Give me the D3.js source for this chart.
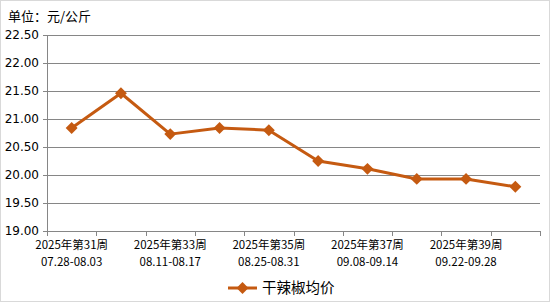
<!DOCTYPE html>
<meta charset='utf-8'>
<style>
    body { margin: 0; background: #fff; }
    text { font-family: 'Noto Sans CJK SC', 'DejaVu Sans', sans-serif; fill: #000; }
</style>
<body>
<div id='container'></div>
<script src='https://d3js.org/d3.v7.min.js'></script>
<script>
    // Data
    const weeks = [ '2025年第31周', '2025年第32周', '2025年第33周', '2025年第34周', '2025年第35周',
        '2025年第36周', '2025年第37周', '2025年第38周', '2025年第39周', '2025年第40周' ];
    const ranges = [ '07.28-08.03', '08.04-08.10', '08.11-08.17', '08.18-08.24', '08.25-08.31',
        '09.01-09.07', '09.08-09.14', '09.15-09.21', '09.22-09.28', '09.29-10.05' ];
    const prices = [ 20.84, 21.46, 20.73, 20.84, 20.80, 20.25, 20.11, 19.93, 19.93, 19.79 ];
    const yTicks = [ 19, 19.5, 20, 20.5, 21, 21.5, 22, 22.5 ];
    const seriesName = '干辣椒均价';
    const unitLabel = '单位：元/公斤';

    const W = 550, H = 302;
    const margin = { top: 35, left: 47, right: 10, bottom: 71 };
    const width = W - margin.left - margin.right,
        height = H - margin.top - margin.bottom;
    const color = '#c55a11';

    const svg = d3.select( '#container' ).append( 'svg' )
        .attr( 'width', W ).attr( 'height', H );

    svg.append( 'rect' )
        .attr( 'x', 0.5 ).attr( 'y', 0.5 )
        .attr( 'width', W - 1 ).attr( 'height', H - 1 )
        .style( 'fill', '#fff' ).style( 'stroke', '#d9d9d9' );

    svg.append( 'text' )
        .attr( 'x', 8 ).attr( 'y', 21 )
        .style( 'font-size', '13px' )
        .text( unitLabel );

    const g = svg.append( 'g' )
        .attr( 'transform', `translate( ${margin.left}, ${margin.top} )` );

    const x = d3.scaleBand().domain( weeks ).range( [0, width] );
    const y = d3.scaleLinear().domain( [19, 22.5] ).range( [height, 0] );

    // Gridlines
    g.append( 'g' ).selectAll( 'line' )
        .data( yTicks.slice( 1 ) )
        .join( 'line' )
            .attr( 'x1', 0 ).attr( 'x2', width )
            .attr( 'y1', d => Math.round( y( d ) ) + 0.5 )
            .attr( 'y2', d => Math.round( y( d ) ) + 0.5 )
            .style( 'stroke', '#868686' );

    // Y axis
    const yAxis = g.append( 'g' )
        .call( d3.axisLeft( y ).tickValues( yTicks ).tickFormat( d3.format( '.2f' ) ).tickSize( 4 ).tickPadding( 4 ) );
    yAxis.selectAll( 'path, line' ).style( 'stroke', '#868686' );
    yAxis.selectAll( 'text' ).style( 'font-size', '12px' ).style( 'font-family', "'DejaVu Sans', sans-serif" );

    // X axis
    const xBoundaries = d3.range( weeks.length + 1 ).map( i => i * x.step() );
    const xAxisEl = g.append( 'g' ).attr( 'transform', `translate( 0, ${height} )` );
    xAxisEl.append( 'line' )
        .attr( 'x1', 0 ).attr( 'x2', width )
        .attr( 'y1', 0.5 ).attr( 'y2', 0.5 )
        .style( 'stroke', '#868686' );
    xAxisEl.selectAll( '.tk' )
        .data( xBoundaries )
        .join( 'line' )
            .attr( 'class', 'tk' )
            .attr( 'x1', d => Math.round( d ) + 0.5 ).attr( 'x2', d => Math.round( d ) + 0.5 )
            .attr( 'y1', 0 ).attr( 'y2', 5 )
            .style( 'stroke', '#868686' );

    const labels = xAxisEl.selectAll( '.lbl' )
        .data( weeks.filter( ( d, i ) => i % 2 === 0 ) )
        .join( 'text' )
            .attr( 'class', 'lbl' )
            .attr( 'text-anchor', 'middle' )
            .style( 'font-size', '11.5px' );
    labels.append( 'tspan' )
        .attr( 'x', d => x( d ) + x.bandwidth() / 2 )
        .attr( 'y', 18 )
        .text( d => d );
    labels.append( 'tspan' )
        .attr( 'x', d => x( d ) + x.bandwidth() / 2 )
        .attr( 'y', 35 )
        .text( d => ranges[ weeks.indexOf( d ) ] );

    // Line
    const pts = weeks.map( ( w, i ) => ( { w, v: prices[ i ] } ) );
    const line = d3.line()
        .x( d => x( d.w ) + x.bandwidth() / 2 )
        .y( d => y( d.v ) );
    g.append( 'path' )
        .datum( pts )
        .attr( 'd', line )
        .style( 'fill', 'none' )
        .style( 'stroke', color )
        .style( 'stroke-width', 3 )
        .style( 'stroke-linejoin', 'round' );

    const diamond = d3.symbol().type( d3.symbolDiamond2 ).size( 90 );
    g.selectAll( '.pt' )
        .data( pts )
        .join( 'path' )
            .attr( 'class', 'pt' )
            .attr( 'd', diamond )
            .attr( 'transform', d => `translate( ${x( d.w ) + x.bandwidth() / 2}, ${y( d.v )} )` )
            .style( 'fill', color );

    // Legend
    const legend = svg.append( 'g' ).attr( 'transform', 'translate( 228, 288 )' );
    legend.append( 'line' )
        .attr( 'x1', 0 ).attr( 'x2', 29 )
        .style( 'stroke', color ).style( 'stroke-width', 3 );
    legend.append( 'path' )
        .attr( 'd', diamond )
        .attr( 'transform', 'translate( 14.5, 0 )' )
        .style( 'fill', color );
    legend.append( 'text' )
        .attr( 'x', 34 ).attr( 'y', 0 )
        .attr( 'dy', '.35em' )
        .style( 'font-size', '14.5px' )
        .text( seriesName );
</script>
</body>
